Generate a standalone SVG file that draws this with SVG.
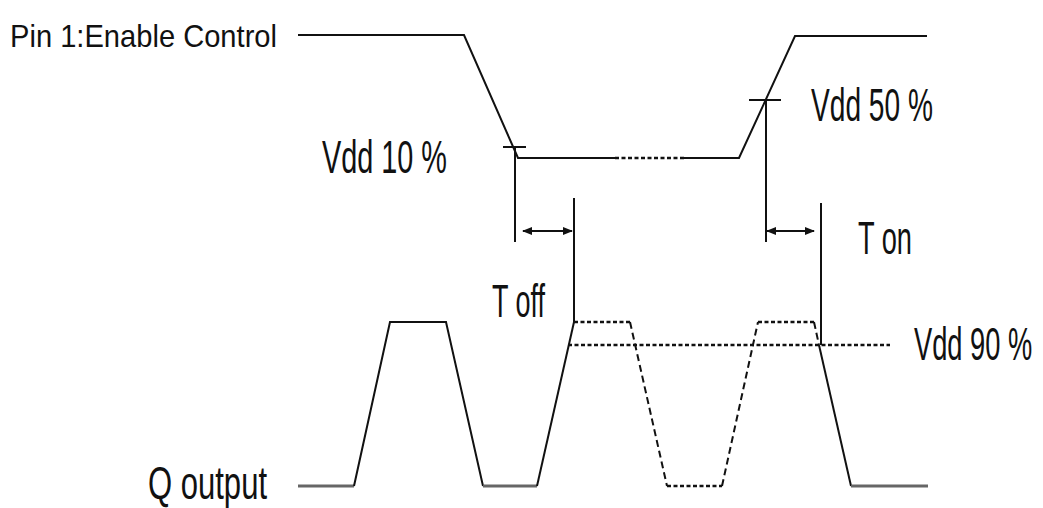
<svg xmlns="http://www.w3.org/2000/svg" width="1043" height="508" viewBox="0 0 1043 508">
<style>
.w{fill:none;stroke:#111;stroke-width:2;stroke-linejoin:miter}
.lo{fill:none;stroke:#666;stroke-width:3}
.dot{fill:none;stroke:#111;stroke-width:2.5;stroke-dasharray:4 2.5}
.dash{fill:none;stroke:#111;stroke-width:2;stroke-dasharray:7 4}
.ln{fill:none;stroke:#111;stroke-width:2}
.ar{fill:none;stroke:#111;stroke-width:2;marker-start:url(#ah);marker-end:url(#ah)}
text{font-family:"Liberation Sans",Arial,sans-serif;fill:#111}
.big{font-size:46px}
</style>
<defs>
<marker id="ah" viewBox="0 0 10 10" refX="9" refY="5" markerWidth="10" markerHeight="10" markerUnits="userSpaceOnUse" orient="auto-start-reverse">
<path d="M0,1 L10,5 L0,9 z" fill="#111"/>
</marker>
</defs>
<g id="enable-signal">
<text x="10" y="47" font-size="32" textLength="267" lengthAdjust="spacingAndGlyphs">Pin 1:Enable Control</text>
<polyline class="w" points="298,35 464,35 518,158 615,158"/>
<line class="dot" x1="615" y1="158" x2="684" y2="158"/>
<polyline class="w" points="684,158 739,158 795,36 927,36"/>
</g>
<g id="vdd10">
<line class="ln" x1="503" y1="147" x2="526" y2="147"/>
<line class="ln" x1="515" y1="147" x2="515" y2="242"/>
<text class="big" x="322" y="173" textLength="125" lengthAdjust="spacingAndGlyphs">Vdd 10 %</text>
</g>
<g id="vdd50">
<line class="ln" x1="749" y1="100" x2="781" y2="100"/>
<line class="ln" x1="766" y1="100" x2="766" y2="242"/>
<text class="big" x="811" y="121" textLength="122" lengthAdjust="spacingAndGlyphs">Vdd 50 %</text>
</g>
<g id="toff">
<line class="ln" x1="574" y1="198" x2="574" y2="322"/>
<text class="big" x="492" y="317" textLength="53" lengthAdjust="spacingAndGlyphs">T off</text>
</g>
<g id="ton">
<line class="ln" x1="821" y1="203" x2="821" y2="345"/>
<text class="big" x="858" y="254" textLength="54" lengthAdjust="spacingAndGlyphs">T on</text>
</g>
<g id="q-output">
<text class="big" x="148" y="499" textLength="119" lengthAdjust="spacingAndGlyphs">Q output</text>
<line class="lo" x1="298" y1="486" x2="354" y2="486"/>
<polyline class="w" points="354,486 390,322 446,322 483,486"/>
<line class="lo" x1="483" y1="486" x2="537" y2="486"/>
<polyline class="w" points="537,486 574,322"/>
<line class="dot" x1="574" y1="322" x2="630" y2="322"/>
<polyline class="dash" points="630,322 667,486"/>
<line class="dot" x1="667" y1="486" x2="722" y2="486"/>
<polyline class="dash" points="722,486 758,322"/>
<line class="dot" x1="758" y1="322" x2="814" y2="322"/>
<polyline class="dash" points="814,322 819,345"/>
<polyline class="w" points="819,345 851,486"/>
<line class="lo" x1="851" y1="486" x2="928" y2="486"/>
</g>
<g id="vdd90">
<line class="dot" x1="568" y1="345" x2="890" y2="345"/>
<text class="big" transform="translate(914,360) scale(0.593,1)" x="0" y="0">Vdd 90 %</text>
</g>
<g id="connectors">
<line class="ar" x1="523" y1="231" x2="572" y2="231"/>
<line class="ar" x1="767" y1="231" x2="814" y2="231"/>
</g>
</svg>
